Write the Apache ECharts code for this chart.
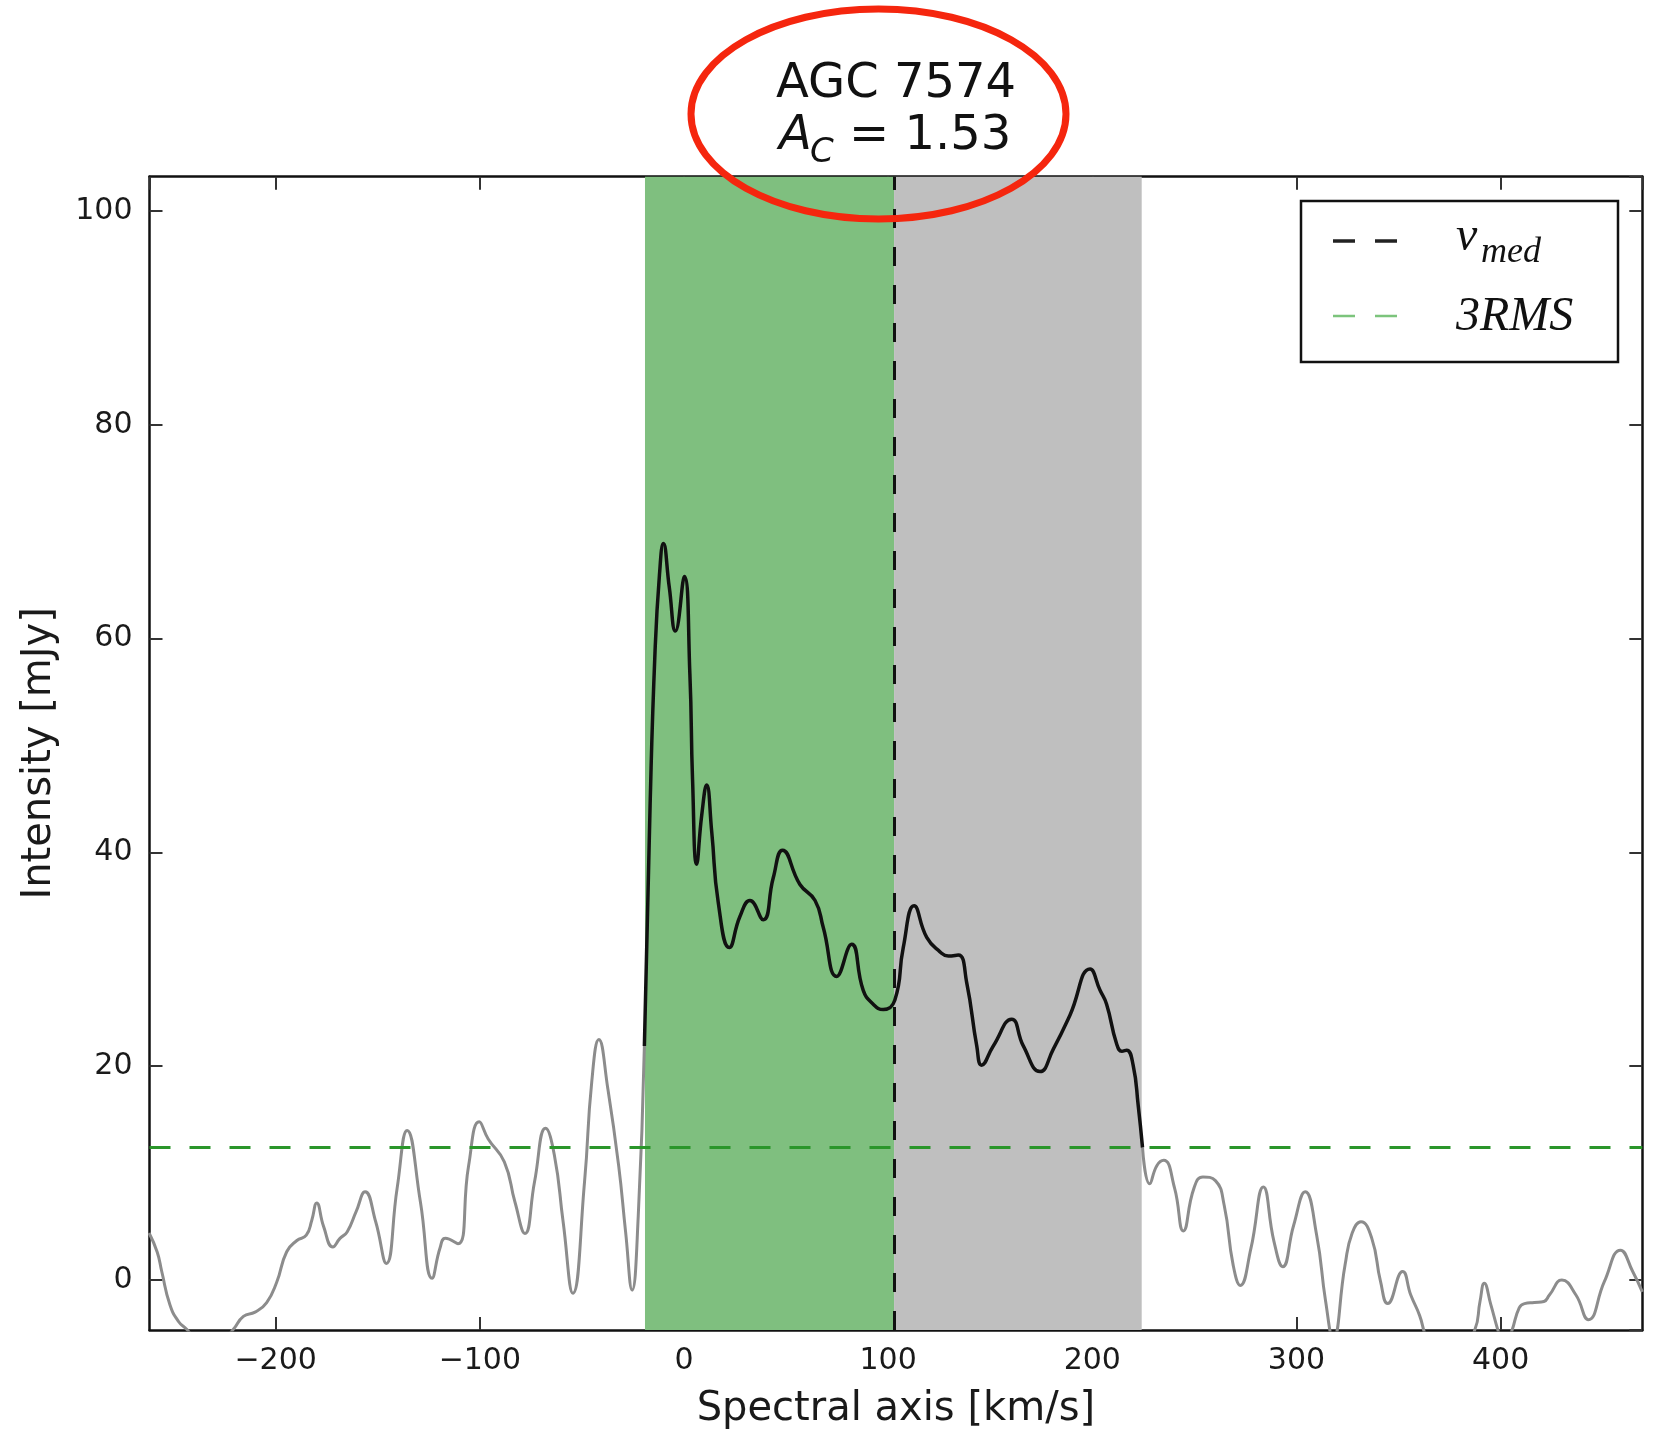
<!DOCTYPE html>
<html>
<head>
<meta charset="utf-8">
<title>AGC 7574</title>
<script src="https://cdn.jsdelivr.net/npm/echarts@6/dist/echarts.min.js"></script>
<style>
    html, body { margin: 0; padding: 0; background: #fff; }
    #chart { width: 1657px; height: 1435px; }
</style>
</head>
<body>
<div id="chart"></div>
<script>
// spectrum (km/s , mJy)
var specVel = [
    -262, -258, -255.8, -251.8, -247.5, -243.6, -232, -220.7, -215.8, -210.1,
    -204.4, -199.5, -194.6, -189.6, -185, -182.3, -179.9, -176.5, -172, -168.5,
    -165, -160.6, -156.2, -151, -145.8, -140.5, -135.6, -129.1, -123.4, -119.5,
    -116.9, -110.7, -105.5, -100.3, -95.9, -88, -82.8, -77.9, -73.2, -67.8,
    -63.5, -59.2, -54.4, -48.7, -45.2, -41.7, -37.3, -32, -28.6, -25.4,
    -22.4, -19.4,
    -16.6, -14.2, -12.0, -10.1, -7.2, -4.2, 0.2, 2.9, 4.2, 6.2,
    8.7, 11.1, 13.6, 16.8, 22.2, 27.4, 32.3, 38.8, 43.7, 48.3,
    56.8, 64.2, 68.2, 74.8, 82.1, 87.8, 92.7, 97.6, 103.3, 107.4,
    112.7, 118.9, 125.4, 129.5, 134.4, 138.5, 143.4, 145.8, 151.5, 160.5,
    166.2, 174.4, 180.9, 189.1, 198.9, 203.8, 207.0, 211.9, 214.5, 216.8,
    220.0, 222.5, 224.6,
    228.1, 231.6, 235.0, 240.3, 244.6, 249.8, 254.2, 260.3, 264.6, 269,
    272.5, 277.7, 283.8, 289.0, 293.3, 298.6, 304.3, 309.9, 314.3, 318,
    323.8, 327.3, 331.6, 336.9, 341.2, 344.7, 352.0, 356, 360.3, 364,
    375, 387.3, 389.9, 392.0, 395.2, 398.7, 402, 405.6, 409.1, 411.7,
    416.5, 421.2, 423.9, 430, 436.9, 443, 450.8, 458.7, 464.7, 469.4
];
var specFlux = [
    4.4, 2.6, 0.8, -2.3, -3.9, -4.6, -7.0, -4.6, -3.4, -3.0,
    -2.1, -0.2, 2.65, 3.7, 4.2, 5.6, 7.2, 5.0, 3.1, 3.9,
    4.5, 6.4, 8.25, 5.45, 1.56, 8.6, 14.0, 7.3, 0.16, 3.0,
    3.9, 3.4, 10.7, 14.8, 13.2, 11.05, 7.3, 4.36, 9.2, 14.2,
    11.7, 5.45, -1.24, 9.2, 18.5, 22.5, 17.9, 10.7, 4.5, -0.93,
    6.0, 21.9,
    44.4, 58.7, 66.0, 68.9, 64.8, 60.7, 65.8, 56.6, 46.8, 38.9,
    43.5, 46.3, 41.9, 35.3, 31.1, 34.0, 35.5, 33.7, 37.6, 40.2,
    37.0, 35.5, 33.0, 28.4, 31.4, 27.1, 25.8, 25.3, 26.2, 31.1,
    35.0, 32.05, 30.7, 30.3, 30.4, 27.8, 21.9, 20.1, 21.9, 24.4,
    21.9, 19.5, 21.6, 24.8, 29.1, 27.1, 25.8, 22.1, 21.4, 21.5,
    20.1, 16.3, 12.4,
    9.0, 10.7, 11.2, 8.6, 4.6, 8.6, 9.65, 9.3, 7.0, 1.4,
    -0.5, 2.96, 8.7, 3.6, 1.25, 5.1, 8.25, 4.2, -2.0, -5.5,
    1.4, 4.4, 5.45, 3.9, -0.15, -2.2, 0.8, -1.4, -3.3, -5.5,
    -9, -4.7, -2.0, -0.3, -2.3, -4.7, -6.5, -4.7, -2.6, -2.2,
    -2.1, -2.0, -1.4, 0.0, -1.4, -3.7, -0.15, 2.8, 0.8, -1.1
];

// line window, spans and reference lines
var lineWindow = [-19.4, 224.6];
var greenSpan = [-19.1, 102.9];
var graySpan = [102.9, 224.2];
var vMed = 102.9;
var rms3 = 12.42;
var xRange = [-261.8, 469.4];
var yRange = [-4.67, 103.2];

var chart = echarts.init(document.getElementById('chart'));

var leftData = [], midData = [], rightData = [];
for (var i = 0; i < specVel.length; i++) {
    var p = [specVel[i], specFlux[i]];
    if (specVel[i] <= lineWindow[0]) leftData.push(p);
    if (specVel[i] >= lineWindow[0] && specVel[i] <= lineWindow[1]) midData.push(p);
    if (specVel[i] >= lineWindow[1]) rightData.push(p);
}

var tickFont = 'DejaVu Sans';
var frame = { show: true, onZero: false, lineStyle: { color: '#111', width: 2.5 } };
var tick = { show: true, inside: true, length: 13, lineStyle: { color: '#333', width: 2 } };

function xAx(pos, labels) {
    return {
        type: 'value', position: pos, min: xRange[0], max: xRange[1], splitNumber: 7,
        axisLine: frame, axisTick: tick, splitLine: { show: false },
        axisLabel: {
            show: labels, margin: 16, fontFamily: tickFont, fontSize: 30, color: '#1a1a1a',
            showMinLabel: false, showMaxLabel: false,
            formatter: function (v) { return v < 0 ? '\u2212' + Math.abs(v) : '' + v; }
        },
        name: labels ? 'Spectral axis [km/s]' : '', nameLocation: 'middle', nameGap: 60,
        nameTextStyle: { fontFamily: tickFont, fontSize: 40, color: '#1a1a1a' }
    };
}
function yAx(pos, labels) {
    return {
        type: 'value', position: pos, min: yRange[0], max: yRange[1], splitNumber: 5,
        axisLine: frame, axisTick: tick, splitLine: { show: false },
        axisLabel: {
            show: labels, margin: 17, fontFamily: tickFont, fontSize: 30, color: '#1a1a1a',
            showMinLabel: false, showMaxLabel: false
        },
        name: labels ? 'Intensity [mJy]' : '', nameLocation: 'middle', nameGap: 90, nameRotate: 90,
        nameTextStyle: { fontFamily: tickFont, fontSize: 40, color: '#1a1a1a' }
    };
}

var option = {
    animation: false,
    backgroundColor: '#fff',
    grid: { left: 149.5, right: 14.7, top: 176.7, bottom: 103.3 },
    xAxis: [xAx('bottom', true), xAx('top', false)],
    yAxis: [yAx('left', true), yAx('right', false)],
    series: [
        {
            type: 'line', data: [], z: 1, silent: true,
            markArea: {
                silent: true,
                data: [
                    [{ xAxis: greenSpan[0], itemStyle: { color: '#7fbf7f' } }, { xAxis: greenSpan[1] }],
                    [{ xAxis: graySpan[0], itemStyle: { color: '#bfbfbf' } }, { xAxis: graySpan[1] }]
                ]
            }
        },
        {
            type: 'line', data: leftData, z: 2, smooth: 0.5,
            symbol: 'none', lineStyle: { color: '#8c8c8c', width: 3 }
        },
        {
            type: 'line', data: rightData, z: 2, smooth: 0.5,
            symbol: 'none', lineStyle: { color: '#8c8c8c', width: 3 }
        },
        {
            type: 'line', data: midData, z: 3, smooth: 0.5,
            symbol: 'none', lineStyle: { color: '#111', width: 3.5 }
        },
        {
            type: 'line', data: [], z: 4, silent: true,
            markLine: {
                silent: true, symbol: 'none', label: { show: false },
                data: [
                    { xAxis: vMed, lineStyle: { color: '#111', width: 3, type: [19, 19] } },
                    { yAxis: rms3, lineStyle: { color: '#2a962a', width: 3, type: [21, 19] } }
                ]
            }
        }
    ],
    graphic: [
        // title
        { type: 'text', x: 896, y: 99 - 0.3 * 48, z: 50,
          style: { text: 'AGC 7574', font: '48px "DejaVu Sans"', fill: '#111', align: 'center', verticalAlign: 'middle' } },
        { type: 'text', x: 779, y: 150.7 - 0.3 * 48, z: 50,
          style: { text: 'A', font: 'italic 48px "DejaVu Sans"', fill: '#111', align: 'left', verticalAlign: 'middle' } },
        { type: 'text', x: 810, y: 163 - 0.3 * 34, z: 50,
          style: { text: 'C', font: 'italic 34px "DejaVu Sans"', fill: '#111', align: 'left', verticalAlign: 'middle' } },
        { type: 'text', x: 849, y: 150.7 - 0.3 * 48, z: 50,
          style: { text: '= 1.53', font: '48px "DejaVu Sans"', fill: '#111', align: 'left', verticalAlign: 'middle' } },
        // red ring
        { type: 'ellipse', z: 60, shape: { cx: 878.5, cy: 114, rx: 187.5, ry: 105 },
          style: { fill: 'none', stroke: '#f5260e', lineWidth: 7 } },
        // legend
        { type: 'rect', z: 40, shape: { x: 1301, y: 201, width: 317, height: 161 },
          style: { fill: '#fff', stroke: '#111', lineWidth: 2.5 } },
        { type: 'line', z: 41, shape: { x1: 1333, y1: 241, x2: 1397, y2: 241 },
          style: { stroke: '#222', lineWidth: 3.5, lineDash: [22, 20] } },
        { type: 'line', z: 41, shape: { x1: 1333, y1: 316, x2: 1397, y2: 316 },
          style: { stroke: '#7cc47c', lineWidth: 2.5, lineDash: [22, 20] } },
        { type: 'text', x: 1456, y: 251.7 - 0.3 * 48, z: 41,
          style: { text: 'v', font: 'italic 48px "Liberation Serif"', fill: '#111', align: 'left', verticalAlign: 'middle' } },
        { type: 'text', x: 1481, y: 263 - 0.3 * 36, z: 41,
          style: { text: 'med', font: 'italic 36px "Liberation Serif"', fill: '#111', align: 'left', verticalAlign: 'middle' } },
        { type: 'text', x: 1456, y: 331.7 - 0.3 * 48, z: 41,
          style: { text: '3RMS', font: 'italic 48px "Liberation Serif"', fill: '#111', align: 'left', verticalAlign: 'middle' } }
    ]
};

chart.setOption(option);
</script>
</body>
</html>
